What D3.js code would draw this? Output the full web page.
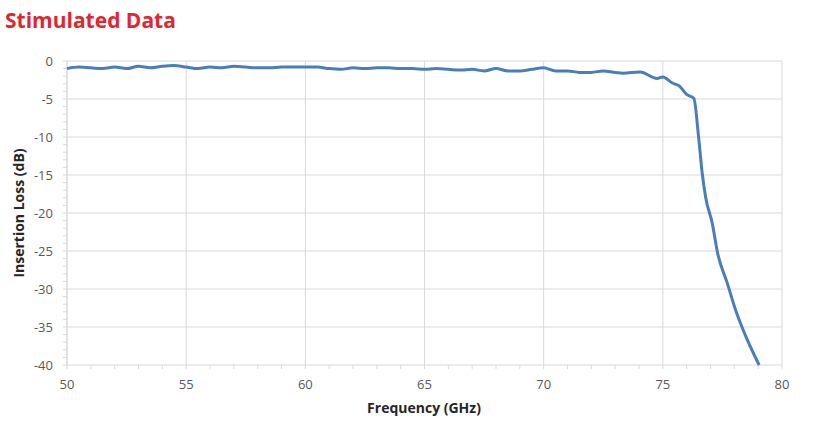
<!DOCTYPE html><html><head><meta charset="utf-8"><script src="https://cdn.jsdelivr.net/npm/d3@7"></script>
<style>body{margin:0;background:#fff}</style></head><body><svg id="c" width="821" height="431"></svg><script>
const freq=[50,50.5,51,51.5,52,52.5,53,53.5,54,54.5,55,55.5,56,56.5,57,57.5,58,58.5,59,59.5,60,60.5,61,61.5,62,62.5,63,63.5,64,64.5,65,65.5,66,66.5,67,67.5,68,68.5,69,69.5,70,70.5,71,71.5,72,72.5,73,73.33,74.05,74.76,75,75.4,75.7,76,76.3,76.5,76.65,76.8,77.07,77.3,77.7,78.1,78.45,79.04];
const loss=[-1.0,-0.8,-0.9,-1.0,-0.8,-1.0,-0.7,-0.9,-0.7,-0.6,-0.8,-1.0,-0.8,-0.9,-0.7,-0.8,-0.9,-0.9,-0.8,-0.8,-0.8,-0.8,-1.0,-1.1,-0.9,-1.0,-0.9,-0.9,-1.0,-1.0,-1.1,-1.0,-1.1,-1.2,-1.1,-1.3,-1.0,-1.3,-1.3,-1.1,-0.9,-1.3,-1.3,-1.5,-1.5,-1.3,-1.5,-1.6,-1.45,-2.3,-2.1,-2.9,-3.3,-4.4,-4.9,-10,-14.7,-18,-21.3,-25.3,-29.2,-33.2,-36,-40];
const xTicks=[50,55,60,65,70,75,80], yTicks=[0,-5,-10,-15,-20,-25,-30,-35,-40];
const svg=d3.select("#c"),L=67,R=782,T=61,B=365;
const x=d3.scaleLinear().domain([50,80]).range([L,R]), y=d3.scaleLinear().domain([-40,0]).range([B,T]);
const g=svg.append("g");
xTicks.forEach(v=>g.append("line").attr("x1",x(v)).attr("x2",x(v)).attr("y1",T).attr("y2",B).attr("stroke","#d9d9d9"));
yTicks.forEach(v=>g.append("line").attr("x1",L).attr("x2",R).attr("y1",y(v)).attr("y2",y(v)).attr("stroke","#d9d9d9"));
d3.range(50,81).forEach(v=>g.append("line").attr("x1",x(v)).attr("x2",x(v)).attr("y1",B).attr("y2",B+4).attr("stroke","#d9d9d9"));
d3.range(-40,1).forEach(v=>g.append("line").attr("x1",L-4).attr("x2",L).attr("y1",y(v)).attr("y2",y(v)).attr("stroke","#d9d9d9"));
g.append("line").attr("x1",L).attr("x2",L).attr("y1",T).attr("y2",B).attr("stroke","#d9d9d9");
const ft="'Open Sans',sans-serif";
xTicks.forEach(v=>g.append("text").attr("x",x(v)).attr("y",B+24).attr("text-anchor","middle").attr("font-family",ft).attr("font-size",13).attr("fill","#595959").text(v));
yTicks.forEach(v=>g.append("text").attr("x",L-14).attr("y",y(v)+5).attr("text-anchor","end").attr("font-family",ft).attr("font-size",13).attr("fill","#595959").text(v));
svg.append("path").datum(freq.map((f,i)=>[f,loss[i]])).attr("fill","none").attr("stroke","#4a7ebb").attr("stroke-width",3)
 .attr("d",d3.line().x(d=>x(d[0])).y(d=>y(d[1])).curve(d3.curveMonotoneX));
svg.append("text").attr("x",424).attr("y",413).attr("text-anchor","middle").attr("font-family",ft).attr("font-weight","bold").attr("font-size",14).attr("fill","#262626").text("Frequency (GHz)");
svg.append("text").attr("transform","translate(24,213) rotate(-90)").attr("text-anchor","middle").attr("font-family",ft).attr("font-weight","bold").attr("font-size",14).attr("fill","#262626").text("Insertion Loss (dB)");
svg.append("text").attr("x",5).attr("y",28).attr("font-family",ft).attr("font-weight","bold").attr("font-size",21).attr("fill","#e0262f").text("Stimulated Data");
</script></body></html>
